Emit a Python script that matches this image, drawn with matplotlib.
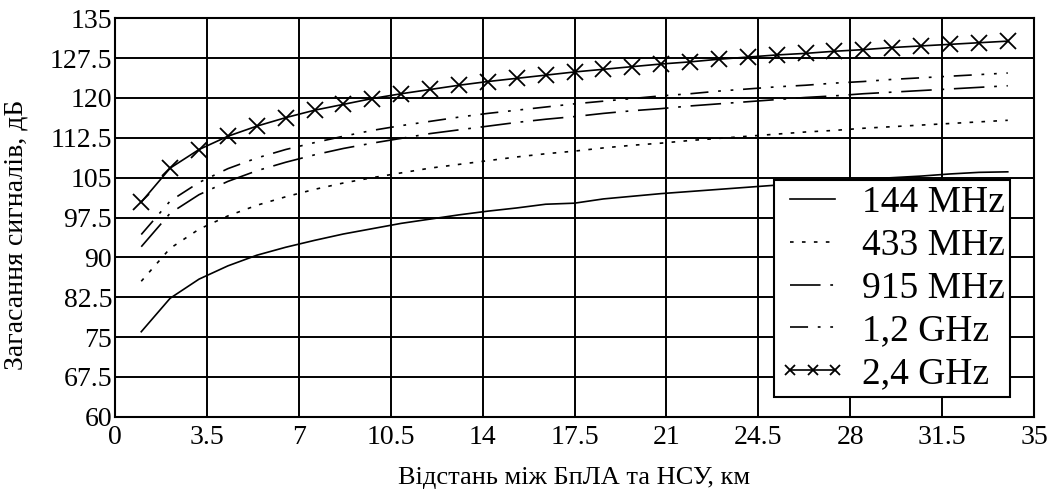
import matplotlib
matplotlib.use("Agg")
import matplotlib.pyplot as plt

plt.rcParams['font.family'] = ['Liberation Serif', 'DejaVu Serif']
plt.rcParams['lines.scale_dashes'] = False

distance_km = [1.0, 2.1, 3.2, 4.3, 5.4, 6.5, 7.6, 8.7, 9.8, 10.9, 12.0, 13.1, 14.2, 15.3,
               16.4, 17.5, 18.6, 19.7, 20.8, 21.9, 23.0, 24.1, 25.2, 26.3, 27.4, 28.5,
               29.6, 30.7, 31.8, 32.9, 34.0]

loss_144 = [76.0, 82.3, 85.9, 88.4, 90.4, 91.9, 93.2, 94.4, 95.4, 96.4, 97.2, 98.0, 98.7,
            99.3, 100.0, 100.2, 101.0, 101.5, 102.0, 102.4, 102.8, 103.2, 103.6, 104.0,
            104.4, 104.7, 105.0, 105.3, 105.7, 106.0, 106.1]
loss_433 = [85.5, 91.7, 95.3, 97.8, 99.8, 101.4, 102.8, 104.0, 105.0, 105.9, 106.8, 107.5,
            108.2, 108.9, 109.5, 110.0, 110.6, 111.1, 111.5, 112.0, 112.4, 112.8, 113.2,
            113.6, 113.9, 114.3, 114.6, 114.9, 115.2, 115.5, 115.8]
loss_915 = [92.0, 98.3, 101.8, 104.3, 106.3, 107.9, 109.3, 110.5, 111.5, 112.4, 113.3,
            114.0, 114.7, 115.4, 116.0, 116.5, 117.1, 117.6, 118.0, 118.5, 118.9, 119.3,
            119.7, 120.1, 120.4, 120.8, 121.1, 121.4, 121.7, 122.0, 122.3]
loss_1200 = [94.3, 100.6, 104.1, 106.7, 108.7, 110.3, 111.6, 112.8, 113.9, 114.8, 115.6,
             116.4, 117.1, 117.7, 118.3, 118.9, 119.4, 119.9, 120.4, 120.8, 121.3, 121.7,
             122.1, 122.4, 122.8, 123.1, 123.5, 123.8, 124.1, 124.4, 124.7]
loss_2400 = [100.4, 106.8, 110.3, 112.8, 114.7, 116.3, 117.7, 118.8, 119.9, 120.8, 121.6,
             122.4, 123.1, 123.7, 124.3, 124.9, 125.4, 125.9, 126.4, 126.8, 127.3, 127.7,
             128.1, 128.4, 128.8, 129.1, 129.5, 129.8, 130.1, 130.4, 130.7]

labels = ["144 MHz", "433 MHz", "915 MHz", "1,2 GHz", "2,4 GHz"]

x_ticks = [0, 3.5, 7, 10.5, 14, 17.5, 21, 24.5, 28, 31.5, 35]
x_tick_labels = ["0", "3.5", "7", "10.5", "14", "17.5", "21", "24.5", "28", "31.5", "35"]
y_ticks = [60, 67.5, 75, 82.5, 90, 97.5, 105, 112.5, 120, 127.5, 135]
y_tick_labels = ["60", "67.5", "75", "82.5", "90", "97.5", "105", "112.5", "120", "127.5", "135"]

x_label = "Відстань між БпЛА та НСУ, км"
y_label = "Загасання сигналів, дБ"

fig = plt.figure(figsize=(10.56, 4.92), dpi=100)
ax = fig.add_axes([0.1089, 0.1530, 0.8703, 0.8098])

lw = 1.2
ax.plot(distance_km, loss_144, color='black', lw=lw, ls='-', label=labels[0])
ax.plot(distance_km, loss_433, color='black', lw=lw, dashes=(2.6, 6.0), label=labels[1])
ax.plot(distance_km, loss_915, color='black', lw=lw, dashes=(22, 7, 2, 7), label=labels[2])
ax.plot(distance_km, loss_1200, color='black', lw=lw, dashes=(13, 7, 2, 7, 2, 7), label=labels[3])
ax.plot(distance_km, loss_2400, color='black', lw=lw, ls='-', marker='x', markersize=12,
        markeredgewidth=1.3, label=labels[4])

ax.set_xlim(0, 35)
ax.set_ylim(60, 135)
ax.set_xticks(x_ticks)
ax.set_xticklabels(x_tick_labels, fontsize=20)
ax.set_yticks(y_ticks)
ax.set_yticklabels(y_tick_labels, fontsize=20)
ax.tick_params(axis='both', length=0)
ax.tick_params(axis='x', pad=6)
ax.tick_params(axis='y', pad=2)

ax.grid(True, color='black', lw=1.4)
ax.set_axisbelow(True)
for s in ax.spines.values():
    s.set_linewidth(1.5)
    s.set_color('black')

ax.set_xlabel(x_label, fontsize=19)
ax.set_ylabel(y_label, fontsize=20)
ax.xaxis.set_label_coords(0.5, -0.125)
ax.yaxis.set_label_coords(-0.094, 0.456)

leg = ax.legend(loc='lower right', bbox_to_anchor=(0.974, 0.050), fontsize=27,
                frameon=True, fancybox=False, framealpha=1, edgecolor='black',
                handlelength=1.8, handletextpad=0.4, labelspacing=0.22,
                borderpad=0.15, borderaxespad=0, numpoints=3, markerscale=0.6)
leg.get_frame().set_linewidth(1.5)

fig.savefig("out.png", dpi=100)
